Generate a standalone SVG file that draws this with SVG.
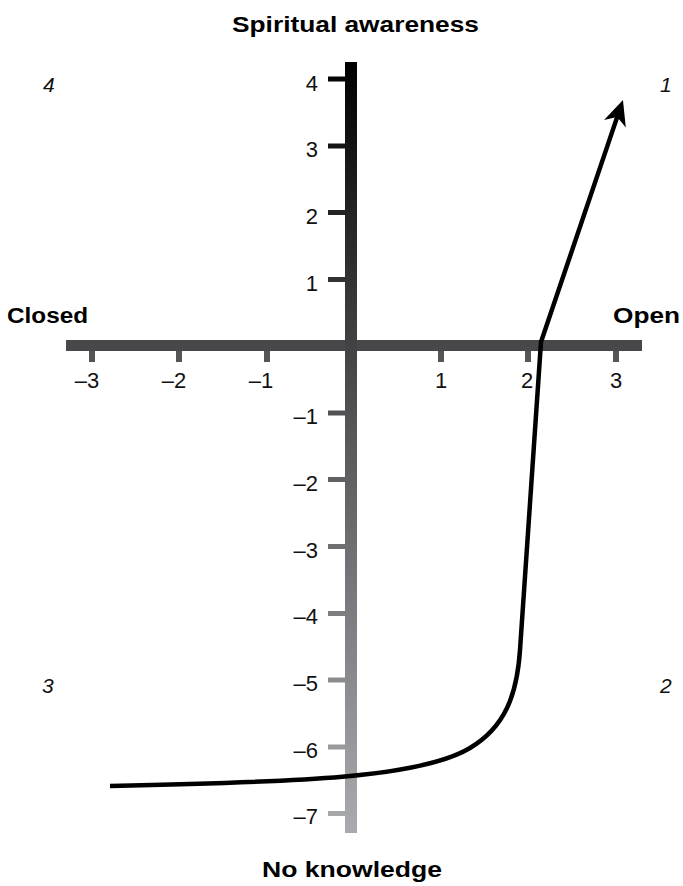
<svg xmlns="http://www.w3.org/2000/svg" width="683" height="886" viewBox="0 0 683 886">
<style>
.lbl{font-family:"Liberation Sans",Arial,sans-serif;font-weight:bold;font-size:22px;fill:#000}
.num{font-family:"Liberation Sans",Arial,sans-serif;font-size:22px;fill:#111}
.q{font-family:"Liberation Sans",Arial,sans-serif;font-style:italic;font-size:21px;fill:#111}
.ht{fill:#555558}
.vt{fill:url(#vg)}
.curve{fill:none;stroke:#000;stroke-width:4.5;stroke-linejoin:round;marker-end:url(#ah)}
</style>
<defs>
<linearGradient id="vg" gradientUnits="userSpaceOnUse" x1="0" y1="62" x2="0" y2="833">
<stop offset="0" stop-color="#000000"/>
<stop offset="0.5" stop-color="#5a5a5d"/>
<stop offset="1" stop-color="#aaabaf"/>
</linearGradient>
<marker id="ah" markerUnits="userSpaceOnUse" orient="auto" refX="0" refY="0" markerWidth="40" markerHeight="40" viewBox="-20 -20 40 40" overflow="visible">
<path d="M12,0 L-13,-11.5 L-6,0 L-13,11.5 Z" fill="#000"/>
</marker>
</defs>
<rect width="683" height="886" fill="#fff"/>
<g id="axes">
<g id="h-axis">
<rect x="66" y="340" width="576" height="11" fill="#48484a"/>
<rect class="ht" x="89" y="351" width="6" height="11"/>
<rect class="ht" x="176" y="351" width="6" height="11"/>
<rect class="ht" x="264" y="351" width="6" height="11"/>
<rect class="ht" x="438" y="351" width="6" height="11"/>
<rect class="ht" x="525" y="351" width="6" height="11"/>
<rect class="ht" x="613" y="351" width="6" height="11"/>
<text class="num" x="87" y="388" text-anchor="middle">–3</text>
<text class="num" x="174" y="388" text-anchor="middle">–2</text>
<text class="num" x="261" y="388" text-anchor="middle">–1</text>
<text class="num" x="441" y="388" text-anchor="middle">1</text>
<text class="num" x="527" y="388" text-anchor="middle">2</text>
<text class="num" x="616" y="388" text-anchor="middle">3</text>
</g>
<g id="v-axis">
<rect x="345" y="62" width="12" height="771" fill="url(#vg)"/>
<rect class="vt" x="328" y="76.5" width="17" height="5"/>
<rect class="vt" x="328" y="143.5" width="17" height="5"/>
<rect class="vt" x="328" y="210" width="17" height="5"/>
<rect class="vt" x="328" y="277" width="17" height="5"/>
<rect class="vt" x="328" y="410.5" width="17" height="5"/>
<rect class="vt" x="328" y="477" width="17" height="5"/>
<rect class="vt" x="328" y="544" width="17" height="5"/>
<rect class="vt" x="328" y="611" width="17" height="5"/>
<rect class="vt" x="328" y="677.5" width="17" height="5"/>
<rect class="vt" x="328" y="744.5" width="17" height="5"/>
<rect class="vt" x="328" y="811" width="17" height="5"/>
<text class="num" x="318" y="91" text-anchor="end">4</text>
<text class="num" x="318" y="157" text-anchor="end">3</text>
<text class="num" x="318" y="224" text-anchor="end">2</text>
<text class="num" x="318" y="291" text-anchor="end">1</text>
<text class="num" x="318" y="424" text-anchor="end">–1</text>
<text class="num" x="318" y="491" text-anchor="end">–2</text>
<text class="num" x="318" y="558" text-anchor="end">–3</text>
<text class="num" x="318" y="624" text-anchor="end">–4</text>
<text class="num" x="318" y="691" text-anchor="end">–5</text>
<text class="num" x="318" y="758" text-anchor="end">–6</text>
<text class="num" x="318" y="824" text-anchor="end">–7</text>
</g>
</g>
<g id="labels">
<text id="top-label" class="lbl" x="232" y="32" textLength="247" lengthAdjust="spacingAndGlyphs">Spiritual awareness</text>
<text id="bottom-label" class="lbl" x="262" y="877" textLength="180" lengthAdjust="spacingAndGlyphs">No knowledge</text>
<text id="left-label" class="lbl" x="7" y="323" textLength="81" lengthAdjust="spacingAndGlyphs">Closed</text>
<text id="right-label" class="lbl" x="613" y="323" textLength="67" lengthAdjust="spacingAndGlyphs">Open</text>
</g>
<g id="quadrants">
<text class="q" x="43" y="92">4</text>
<text class="q" x="660" y="92">1</text>
<text class="q" x="42" y="693">3</text>
<text class="q" x="660" y="693">2</text>
</g>
<g id="connectors">
<path class="curve" d="M110,786 C300,782 420,778 470,748 C505,727 517,695 520,650 L541,342 L619.1,111.4"/>
</g>
</svg>
